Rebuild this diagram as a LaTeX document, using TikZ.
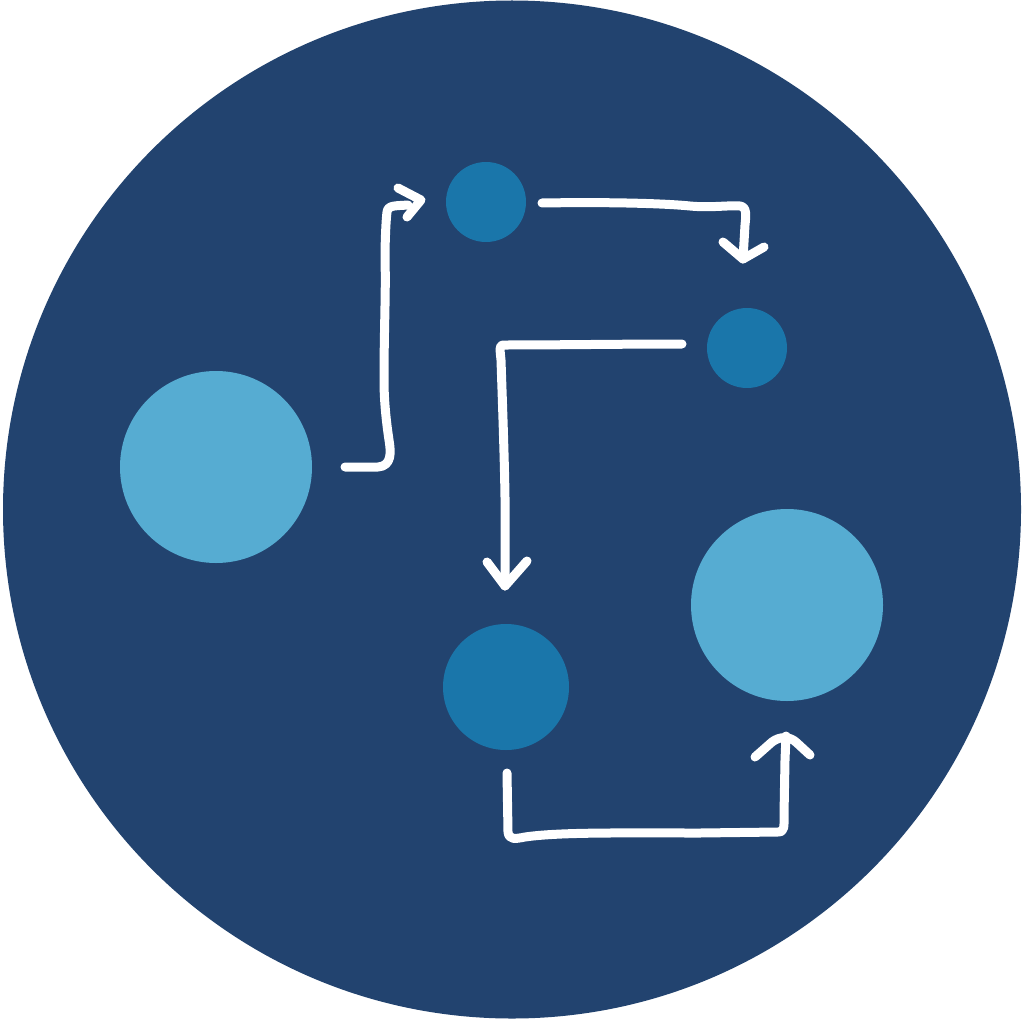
\documentclass[tikz,border=0pt]{standalone}
\begin{document}
\begin{tikzpicture}[x=1pt,y=-1pt,
  disc/.style={circle,inner sep=0pt,draw=none},
  flow/.style={draw=white,line width=9pt,line cap=round,line join=round}]
\definecolor{darkbg}{HTML}{22436F}
\definecolor{lightb}{HTML}{56ACD2}
\definecolor{midb}{HTML}{1A76AA}
\useasboundingbox (0,0) rectangle (1024,1019);
\fill[white] (0,0) rectangle (1024,1019);
\node[disc,fill=darkbg,minimum size=1018pt] (bg) at (512,509.5) {};
\node[disc,fill=lightb,minimum size=192pt] (c1) at (216,467) {};
\node[disc,fill=midb,minimum size=80pt] (c2) at (486,202) {};
\node[disc,fill=midb,minimum size=80pt] (c3) at (747,348) {};
\node[disc,fill=midb,minimum size=126pt] (c4) at (506,687) {};
\node[disc,fill=lightb,minimum size=192pt] (c5) at (787,605) {};
% arrow 1
\coordinate (a1s) at (345,467);
\coordinate (a1t) at (421,200);
\draw[flow] (a1s) -- (378,467) .. controls (392,466) and (391,452) .. (389,440)
  .. controls (386,420) and (384,400) .. (384,380)
  .. controls (384,330) and (386,290) .. (385,260)
  .. controls (385,240) and (386,220) .. (387,212)
  .. controls (388,205) and (395,206) .. (408,205);
\draw[flow] (398,188) -- (a1t) -- (407,217);
% arrow 2
\coordinate (a2s) at (542,203);
\coordinate (a2t) at (743,259);
\draw[flow] (a2s) .. controls (600,202) and (660,203) .. (690,206)
  .. controls (710,208) and (730,205) .. (740,206)
  .. controls (747,207) and (746,215) .. (745,225) -- (a2t);
\draw[flow] (723,242) -- (a2t) -- (764,247);
% arrow 3
\coordinate (a3s) at (682,344);
\coordinate (a3t) at (505,586);
\draw[flow] (a3s) .. controls (620,344) and (560,345) .. (503,345)
  .. controls (499,345) and (500,350) .. (501,360)
  .. controls (503,420) and (506,500) .. (505,540) -- (a3t);
\draw[flow] (487,562) -- (a3t) -- (527,561);
% arrow 4
\coordinate (a4s) at (507,773);
\coordinate (a4t) at (786,736);
\draw[flow] (a4s) -- (508,832) .. controls (509,840) and (515,839) .. (525,837)
  .. controls (560,832) and (620,833) .. (700,833) -- (778,832)
  .. controls (785,832) and (784,826) .. (784,815) -- (785,760) -- (a4t);
\draw[flow] (755,757) -- (772,742) .. controls (780,736) and (790,736) .. (797,743) -- (810,755);
\end{tikzpicture}
\end{document}
